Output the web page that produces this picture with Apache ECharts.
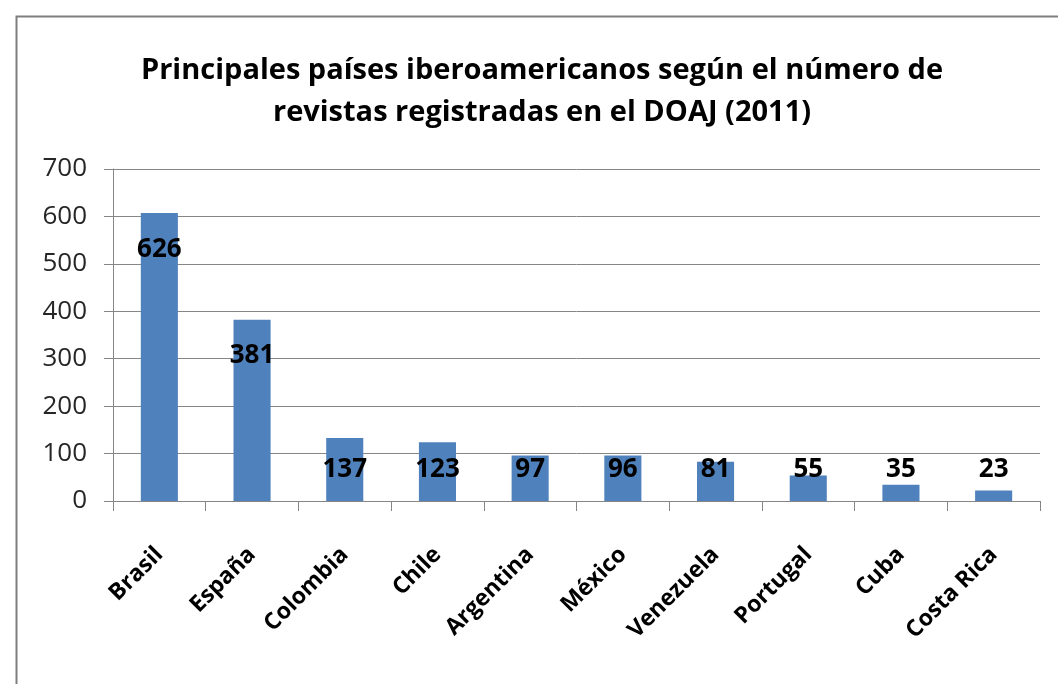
<!DOCTYPE html>
<html>
<head>
<meta charset="utf-8">
<script src="https://cdn.jsdelivr.net/npm/echarts@6/dist/echarts.min.js"></script>
<style>
html,body{margin:0;padding:0;background:#fff;}
#c{width:1058px;height:684px;}
</style>
</head>
<body>
<div id="c"></div>
<script>
const titleText = "Principales países iberoamericanos según el número de\nrevistas registradas en el DOAJ (2011)";
const categories = ["Brasil","España","Colombia","Chile","Argentina","México","Venezuela","Portugal","Cuba","Costa Rica"];
const barValues = [607, 382, 133, 124, 96, 96, 83, 54, 34, 22];
const labelValues = [626, 381, 137, 123, 97, 96, 81, 55, 35, 23];
const yTicks = [0, 100, 200, 300, 400, 500, 600, 700];

const FONT = "'Open Sans', 'Noto Sans', sans-serif";
const chart = echarts.init(document.getElementById('c'), null, {renderer:'canvas'});

const data = barValues.map((v, i) => {
  const big = v > 300;
  return {
    value: v,
    label: {
      show: true,
      position: big ? 'insideTop' : 'insideBottom',
      distance: big ? 23 : 18,
      formatter: String(labelValues[i])
    }
  };
});

chart.setOption({
  backgroundColor: '#ffffff',
  animation: false,
  graphic: [{
    type: 'rect',
    left: 14, top: 14,
    shape: {width: 1100, height: 720},
    style: {fill: 'none', stroke: '#7f7f7f', lineWidth: 2},
    silent: true
  }],
  title: {
    text: titleText,
    left: 537, top: 45,
    textAlign: 'center',
    textStyle: {fontFamily: FONT, fontSize: 29, fontWeight: 'bold', color: '#000', lineHeight: 42}
  },
  grid: {left: 113, right: 18, top: 169, bottom: 183, containLabel: false},
  xAxis: {
    type: 'category',
    data: categories,
    axisLine: {lineStyle: {color: '#868686', width: 1}},
    axisTick: {show: true, length: 10, lineStyle: {color: '#868686'}, alignWithLabel: false},
    axisLabel: {
      rotate: 45, margin: 50, interval: 0,
      fontFamily: FONT, fontSize: 23, fontWeight: 'bold', color: '#000'
    }
  },
  yAxis: {
    type: 'value',
    min: 0, max: 700, interval: 100,
    axisLine: {show: true, lineStyle: {color: '#868686'}},
    axisTick: {show: true, length: 9, lineStyle: {color: '#868686'}},
    splitLine: {lineStyle: {color: '#868686', width: 1}},
    axisLabel: {
      margin: 26,
      fontFamily: FONT, fontSize: 26, color: '#262626',
      formatter: v => yTicks.includes(v) ? String(v) : ''
    }
  },
  series: [{
    type: 'bar',
    data: data,
    barCategoryGap: '60%',
    itemStyle: {color: '#4F81BD'},
    label: {fontFamily: FONT, fontSize: 26, fontWeight: 'bold', color: '#000'}
  }]
});
</script>
</body>
</html>
